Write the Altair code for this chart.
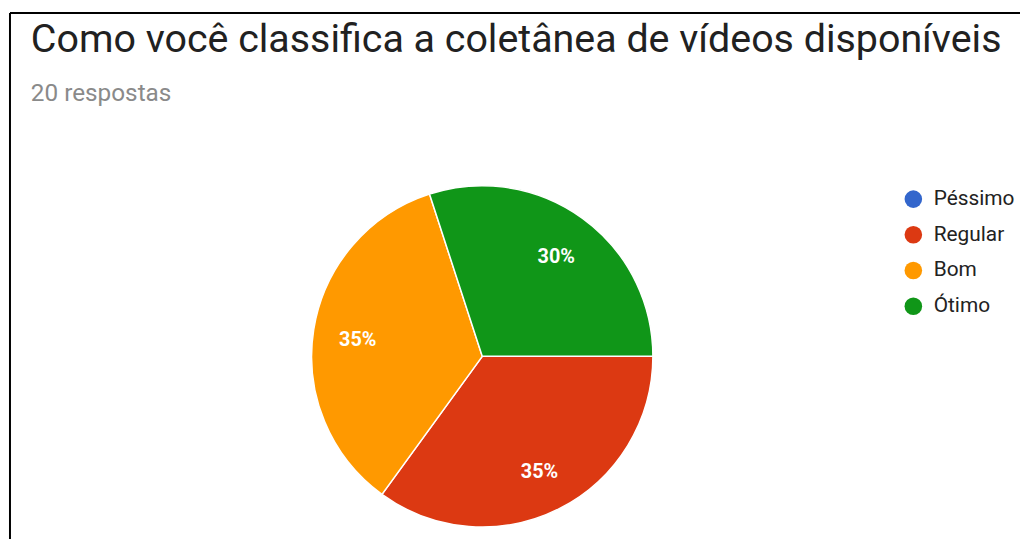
import altair as alt
import pandas as pd
import math

categories = ["Péssimo", "Regular", "Bom", "Ótimo"]
values = [0, 35, 35, 30]
colors = ["#3366cc", "#dc3912", "#ff9900", "#109618"]

title_text = "Como você classifica a coletânea de vídeos disponíveis"
subtitle_text = "20 respostas"

df = pd.DataFrame({"cat": categories, "val": values, "order": list(range(len(categories)))})
df["label"] = df["val"].map(lambda v: f"{v}%")

theta_scale = alt.Scale(range=[math.pi / 2, math.pi / 2 + 2 * math.pi])
color_scale = alt.Scale(domain=categories, range=colors)

W, H = 1018, 530
CX, CY, R = 476, 346, 172

base = alt.Chart(df)

pie = base.mark_arc(outerRadius=R, stroke="white", strokeWidth=1.5).encode(
    theta=alt.Theta("val:Q", stack=True, scale=theta_scale),
    color=alt.Color(
        "cat:N",
        scale=color_scale,
        sort=categories,
        legend=alt.Legend(
            title=None,
            orient="none",
            legendX=900,
            legendY=177,
            symbolType="circle",
            symbolSize=314,
            symbolStrokeWidth=0,
            labelFont="Roboto",
            labelFontSize=21,
            labelColor="#222222",
            rowPadding=14,
            symbolOffset=0,
            labelOffset=10,
        ),
    ),
    order=alt.Order("order:Q"),
    x=alt.value(CX),
    y=alt.value(CY),
)

labels = base.transform_filter("datum.val > 0").mark_text(
    radius=127, font="Roboto", fontSize=20, fontWeight="bold", color="white"
).encode(
    theta=alt.Theta("val:Q", stack=True, scale=theta_scale),
    text="label:N",
    order=alt.Order("order:Q"),
    x=alt.value(CX),
    y=alt.value(CY + 3),
)

titles = pd.DataFrame({"t": [title_text]})
title_mark = alt.Chart(titles).mark_text(
    align="left", baseline="alphabetic", font="Roboto", fontSize=39.7, color="#212121"
).encode(text="t:N", x=alt.value(21), y=alt.value(39))

subs = pd.DataFrame({"t": [subtitle_text]})
sub_mark = alt.Chart(subs).mark_text(
    align="left", baseline="alphabetic", font="Roboto", fontSize=24.5, color="#8a8a8a"
).encode(text="t:N", x=alt.value(21), y=alt.value(89))

border_left = alt.Chart(titles).mark_rule(color="black", strokeWidth=2).encode(
    x=alt.value(0), y=alt.value(0), y2=alt.value(H)
)
border_top = alt.Chart(titles).mark_rule(color="black", strokeWidth=2).encode(
    x=alt.value(0), x2=alt.value(W), y=alt.value(0)
)

chart = alt.layer(pie, labels, title_mark, sub_mark, border_left, border_top).properties(
    width=W, height=H, autosize=alt.AutoSizeParams(type="none"),
    padding={"left": 2, "top": 3, "right": 0, "bottom": 0},
).configure_view(stroke=None)

chart.save("out.html", embed_options={"renderer": "svg", "actions": False})
